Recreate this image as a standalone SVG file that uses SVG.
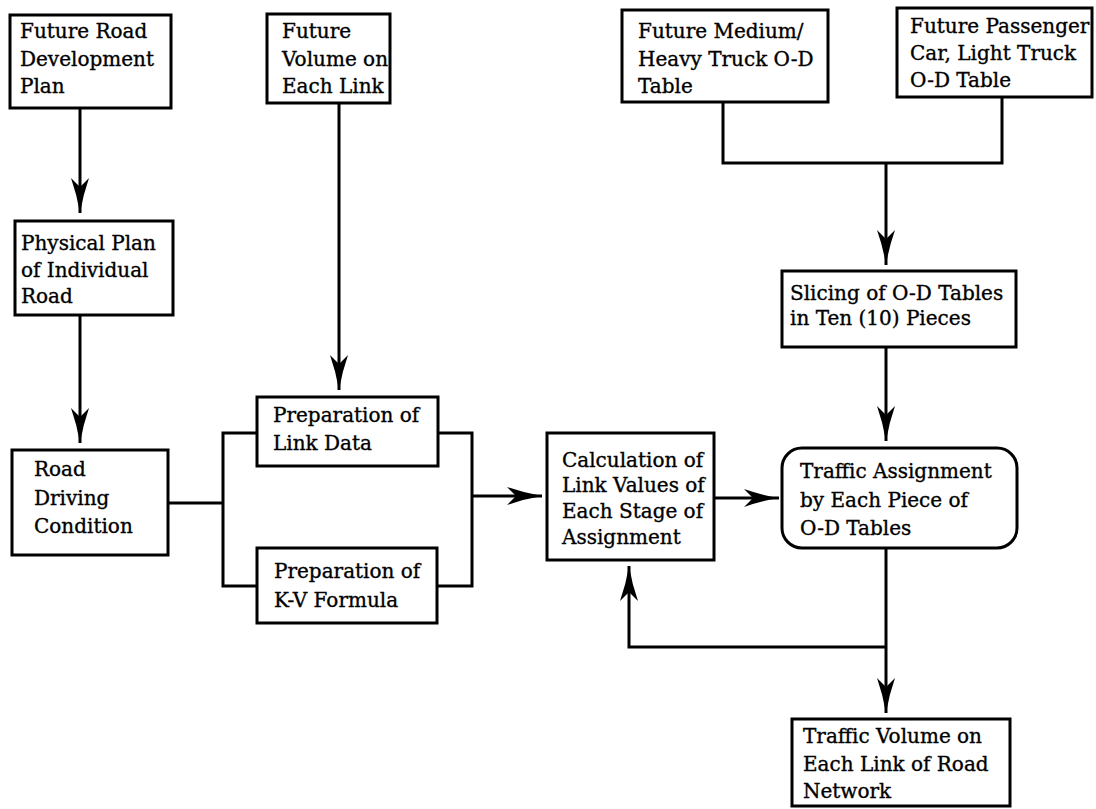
<svg xmlns="http://www.w3.org/2000/svg" width="1096" height="809" viewBox="0 0 1096 809">
<style>
.box{fill:#fff;stroke:#000;stroke-width:3}
.ln{fill:none;stroke:#000;stroke-width:3}
text{font-family:"DejaVu Serif","Liberation Serif",serif;font-size:20px;fill:#000;stroke:#000;stroke-width:0.35}
</style>
<defs>
<marker id="ah" markerUnits="userSpaceOnUse" markerWidth="40" markerHeight="24" viewBox="-36 -12 40 24" refX="0" refY="0" orient="auto" overflow="visible">
<path d="M0,0 Q-18,-3 -35,-9 L-26,0 L-35,9 Q-18,3 0,0 Z" fill="#000"/>
</marker>
</defs>
<rect width="1096" height="809" fill="#fff"/>
<g id="connectors">
<path class="ln" d="M80,108 V213" marker-end="url(#ah)"/>
<path class="ln" d="M80,315 V443" marker-end="url(#ah)"/>
<path class="ln" d="M339,103 V390" marker-end="url(#ah)"/>
<path class="ln" d="M168,503 H223"/>
<path class="ln" d="M257,433 H223 V586 H257"/>
<path class="ln" d="M438,433 H472 V586 H437"/>
<path class="ln" d="M472,496 H542" marker-end="url(#ah)"/>
<path class="ln" d="M714,498 H779" marker-end="url(#ah)"/>
<path class="ln" d="M723,102 V163 H1002 V97"/>
<path class="ln" d="M886,163 V265" marker-end="url(#ah)"/>
<path class="ln" d="M886,347 V441" marker-end="url(#ah)"/>
<path class="ln" d="M886,548 V713" marker-end="url(#ah)"/>
<path class="ln" d="M886,647 H629 V566" marker-end="url(#ah)"/>
</g>
<g id="n1"><rect class="box" x="10" y="15" width="161" height="93"/>
<text x="20" y="38">Future Road</text><text x="20" y="66">Development</text><text x="20" y="93">Plan</text></g>
<g id="n2"><rect class="box" x="267" y="14" width="123" height="89"/>
<text x="282" y="38">Future</text><text x="282" y="66">Volume on</text><text x="282" y="93">Each Link</text></g>
<g id="n3"><rect class="box" x="622" y="10" width="206" height="92"/>
<text x="638" y="38">Future Medium/</text><text x="638" y="66">Heavy Truck O-D</text><text x="638" y="93">Table</text></g>
<g id="n4"><rect class="box" x="897" y="8" width="195" height="89"/>
<text x="910" y="33">Future Passenger</text><text x="910" y="60">Car, Light Truck</text><text x="910" y="87">O-D Table</text></g>
<g id="n5"><rect class="box" x="15" y="221" width="158" height="94"/>
<text x="21" y="250">Physical Plan</text><text x="21" y="277">of Individual</text><text x="21" y="303">Road</text></g>
<g id="n6"><rect class="box" x="12" y="450" width="156" height="105"/>
<text x="34" y="476">Road</text><text x="34" y="505">Driving</text><text x="34" y="533">Condition</text></g>
<g id="n7"><rect class="box" x="257" y="397" width="181" height="69"/>
<text x="273" y="422">Preparation of</text><text x="273" y="450">Link Data</text></g>
<g id="n8"><rect class="box" x="257" y="548" width="180" height="75"/>
<text x="274" y="578">Preparation of</text><text x="274" y="607">K-V Formula</text></g>
<g id="n9"><rect class="box" x="547" y="433" width="167" height="127"/>
<text x="562" y="467">Calculation of</text><text x="562" y="492">Link Values of</text><text x="562" y="518">Each Stage of</text><text x="562" y="544">Assignment</text></g>
<g id="n10"><rect class="box" x="782" y="271" width="234" height="76"/>
<text x="790" y="300">Slicing of O-D Tables</text><text x="790" y="325">in Ten (10) Pieces</text></g>
<g id="n11"><rect class="box" x="782" y="448" width="235" height="100" rx="20" ry="20"/>
<text x="800" y="478">Traffic Assignment</text><text x="800" y="507">by Each Piece of</text><text x="800" y="535">O-D Tables</text></g>
<g id="n12"><rect class="box" x="792" y="719" width="218" height="87"/>
<text x="803" y="743">Traffic Volume on</text><text x="803" y="771">Each Link of Road</text><text x="803" y="798">Network</text></g>
</svg>
